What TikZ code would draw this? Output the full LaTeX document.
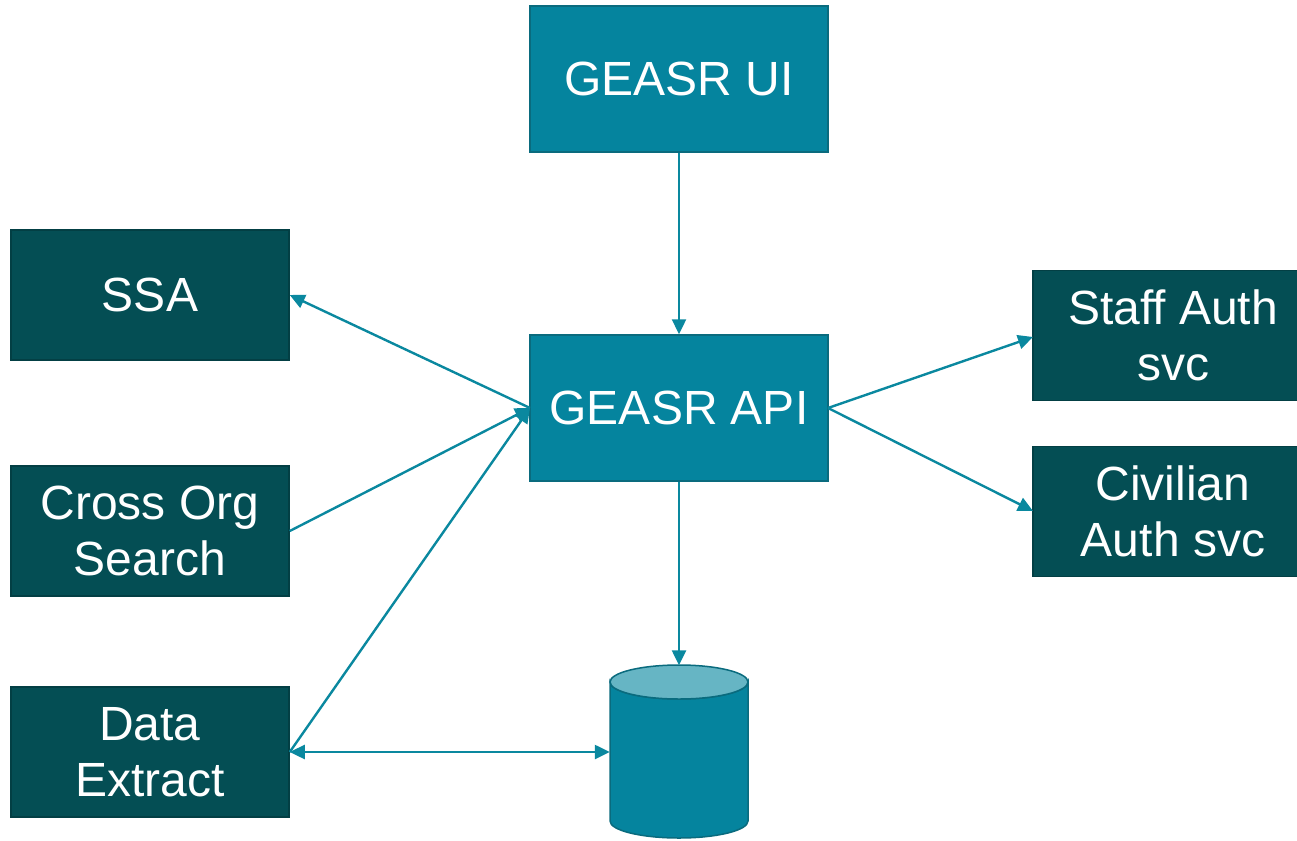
\documentclass[tikz,border=0pt]{standalone}
\usepackage{fontspec}
\setmainfont{Liberation Sans}
\usetikzlibrary{arrows.meta}
\definecolor{lightbox}{HTML}{05849E}
\definecolor{lightborder}{HTML}{0A6B7E}
\definecolor{darkbox}{HTML}{044E54}
\definecolor{darkborder}{HTML}{033F44}
\definecolor{cyltop}{HTML}{66B5C4}
\definecolor{arrowcol}{HTML}{0A889F}
\tikzset{
  boxbase/.style={rectangle, line width=1.5pt, text=white, align=center,
    font=\fontsize{48}{56}\selectfont, inner sep=0pt},
  lightnode/.style={boxbase, fill=lightbox, draw=lightborder, minimum width=298pt, minimum height=146pt},
  darknode/.style={boxbase, fill=darkbox, draw=darkborder, minimum width=278pt, minimum height=130pt},
  conn/.style={draw=arrowcol, line width=2.4pt, -{Triangle[length=15pt,width=14pt]}},
  dconn/.style={draw=arrowcol, line width=2.4pt, {Triangle[length=15pt,width=14pt]}-{Triangle[length=15pt,width=14pt]}}
}
\begin{document}
\begin{tikzpicture}[x=1pt,y=-1pt]
\useasboundingbox (0,0) rectangle (1297,840);
\node[lightnode] (ui) at (679,79) {GEASR UI};
\node[lightnode] (api) at (679,408) {GEASR API};
\node[darknode] (ssa) at (150,295) {SSA};
\node[darknode] (cos) at (150,531) {Cross Org\\Search};
\node[darknode] (de) at (150,752) {Data\\Extract};
\node[darknode, minimum width=280pt] (staff) at (1173,335.5) {Staff Auth\\svc};
\node[darknode, minimum width=280pt] (civ) at (1173,511.5) {Civilian\\Auth svc};
% database
\node[rectangle, minimum width=138pt, minimum height=173pt, inner sep=0pt] (db) at (679,752) {};
\fill[lightbox, draw=lightborder, line width=1.5pt]
  (610,682) -- (610,821) arc[start angle=180, end angle=360, x radius=69pt, y radius=17pt]
  -- (748,682) arc[start angle=0, end angle=180, x radius=69pt, y radius=-17pt] -- cycle;
\draw[fill=cyltop, draw=lightborder, line width=1.5pt] (679,682) ellipse[x radius=69pt, y radius=17pt];
% connectors
\coordinate (apiL) at (530,408);
\coordinate (apiR) at (828,408);
\path[conn] (ui.south) -- (api.north);
\path[conn] (api.south) -- (db.north);
\path[conn] (apiL) -- (ssa.east);
\path[conn] (cos.east) -- (apiL);
\path[conn] (de.east) -- (apiL);
\path[dconn] (de.east) -- (db.west);
\path[conn] (apiR) -- (1033,337);
\path[conn] (apiR) -- (1033,511);
\end{tikzpicture}
\end{document}
